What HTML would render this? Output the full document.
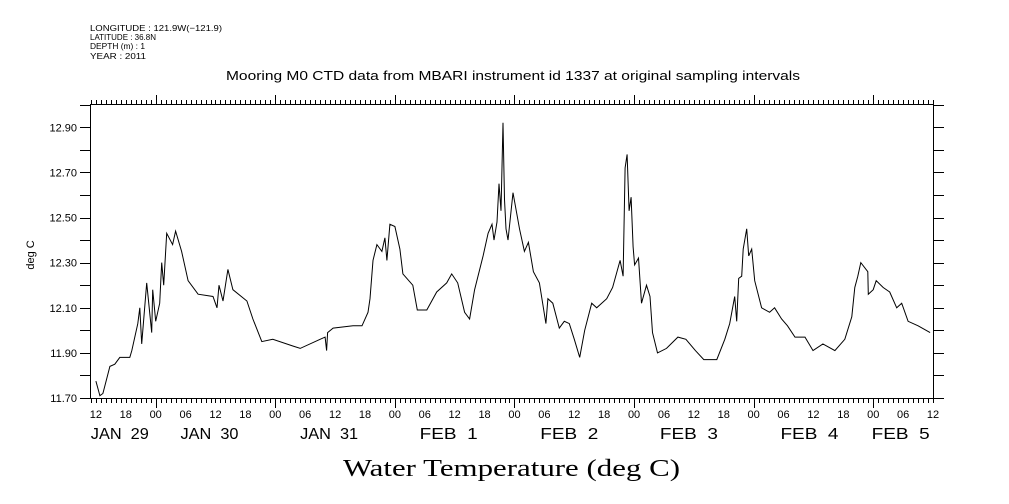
<!DOCTYPE html>
<html><head><meta charset="utf-8">
<style>
html,body{margin:0;padding:0;background:#fff;}
svg{display:block;}
text{font-family:"Liberation Sans",sans-serif;fill:#000;}
</style></head>
<body>
<svg id="chart" width="1009" height="504" viewBox="0 0 1009 504" xmlns="http://www.w3.org/2000/svg">
<g font-size="8.5">
<text x="90" y="31" textLength="132" lengthAdjust="spacingAndGlyphs">LONGITUDE : 121.9W(−121.9)</text>
<text x="90" y="40" textLength="66" lengthAdjust="spacingAndGlyphs">LATITUDE : 36.8N</text>
<text x="90" y="49" textLength="55" lengthAdjust="spacingAndGlyphs">DEPTH (m) : 1</text>
<text x="90" y="59" textLength="56" lengthAdjust="spacingAndGlyphs">YEAR : 2011</text>
</g>
<text x="226" y="80" textLength="574" lengthAdjust="spacingAndGlyphs" font-size="12.5">Mooring M0 CTD data from MBARI instrument id 1337 at original sampling intervals</text>
<text transform="translate(34,255) rotate(-90)" text-anchor="middle" font-size="11">deg C</text>
<text x="343" y="476" textLength="337" lengthAdjust="spacingAndGlyphs" font-size="24" style="font-family:'Liberation Serif',serif">Water Temperature (deg C)</text>
<g id="axes"></g>
<g id="dates" font-size="15"></g>
<path id="series" fill="none" stroke="#000" stroke-width="1"/>
</svg>
<script>
const hours = [0,0.8,1.4,2.8,3.8,4.8,6.8,7.2,8.4,8.8,9.2,10.2,11.2,11.4,12,12.8,13.2,13.6,14.2,15.4,16,17.2,18.5,20.5,23.5,24.3,24.7,25.5,26.5,27.5,30.3,31.5,33.3,35.5,39.6,41,45,46,46.3,46.5,47.6,51.6,53.4,54.6,55,55.6,56.4,57.4,58,58.4,59,60,61,61.6,63.6,64.5,66.4,68.4,70.4,71.4,72.6,74,75,76,77.7,78.7,79.5,79.9,80.5,80.9,81.3,81.7,82,82.3,82.7,83.7,85,86,86.8,87.8,89,90.3,90.7,91.7,93,94,95,96,97.1,98.1,99.5,100.5,102.5,103.7,105.2,105.8,106.2,106.6,107,107.4,107.8,108.1,108.9,109.5,110.5,111.2,111.7,112.7,114.5,116.8,118.4,120.3,122,124.6,126.2,127.2,128.2,128.6,129,129.6,129.9,130.6,131,131.6,132.2,133.6,135.2,136.2,137.6,138.8,140.3,142.3,143.9,145.9,148.3,150.3,151.7,152.3,152.9,153.5,154.9,155,156,156.6,158,159.3,160.7,161.7,163,165,167.4];
const temps = [11.775,11.71,11.72,11.84,11.85,11.88,11.88,11.91,12.03,12.10,11.94,12.21,11.99,12.18,12.04,12.12,12.30,12.20,12.43,12.38,12.44,12.35,12.22,12.16,12.15,12.10,12.20,12.13,12.27,12.18,12.13,12.05,11.95,11.96,11.93,11.92,11.96,11.97,11.91,11.99,12.01,12.02,12.02,12.08,12.14,12.31,12.38,12.35,12.41,12.31,12.47,12.46,12.36,12.25,12.20,12.09,12.09,12.17,12.21,12.25,12.21,12.08,12.05,12.18,12.33,12.43,12.47,12.40,12.48,12.65,12.53,12.92,12.58,12.45,12.40,12.61,12.45,12.35,12.39,12.26,12.21,12.03,12.14,12.12,12.01,12.04,12.03,11.96,11.88,12.00,12.12,12.10,12.14,12.19,12.31,12.24,12.72,12.78,12.53,12.59,12.37,12.29,12.32,12.12,12.20,12.15,11.99,11.90,11.92,11.97,11.96,11.91,11.87,11.87,11.96,12.03,12.15,12.04,12.23,12.24,12.36,12.45,12.33,12.36,12.22,12.10,12.08,12.10,12.05,12.02,11.97,11.97,11.91,11.94,11.91,11.96,12.06,12.19,12.24,12.30,12.26,12.16,12.18,12.22,12.19,12.17,12.10,12.12,12.04,12.02,11.99];
const yTickLabels = ["11.70","11.90","12.10","12.30","12.50","12.70","12.90"];
const hourLabels = ["12","18","00","06","12","18","00","06","12","18","00","06","12","18","00","06","12","18","00","06","12","18","00","06","12","18","00","06","12"];
const dateLabels = ["JAN 29","JAN 30","JAN 31","FEB 1","FEB 2","FEB 3","FEB 4","FEB 5"];
const dateLabelHours = [4.8,22.8,46.8,70.8,95,119,143.2,161.5];

const NS="http://www.w3.org/2000/svg";
const X0=90,X1=933,Y0=104,Y1=398;
const hMin=-1.18,hMax=168;
const vMin=11.7,vMax=13.0;
function xs(h){return 95.9+h*4.983;}
function ys(v){return 398-(v-vMin)*225.6;}
const axes=document.getElementById('axes');
function line(x1,y1,x2,y2,name){
  const l=document.createElementNS(NS,'line');
  l.setAttribute('x1',x1);l.setAttribute('y1',y1);l.setAttribute('x2',x2);l.setAttribute('y2',y2);
  l.setAttribute('stroke','#000');l.setAttribute('stroke-width','1');
  
  
  axes.appendChild(l);return l;
}
function txt(x,y,s,anchor,size,name,parent,len){
  const t=document.createElementNS(NS,'text');
  t.setAttribute('x',x);t.setAttribute('y',y);t.setAttribute('text-anchor',anchor);t.setAttribute('font-size',size);
  if(len){t.setAttribute('textLength',len);t.setAttribute('lengthAdjust','spacingAndGlyphs');}
  t.textContent=s;
  
  
  (parent||axes).appendChild(t);return t;
}
const r=document.createElementNS(NS,'rect');
r.setAttribute('x',X0+0.5);r.setAttribute('y',Y0+0.5);r.setAttribute('width',X1-X0);r.setAttribute('height',Y1-Y0);
r.setAttribute('fill','none');r.setAttribute('stroke','#000');


axes.appendChild(r);
for(let i=0;i<=13;i++){
  const v=vMin+i*0.1;const y=Math.round(ys(v))+0.5;
  line(X0-10,y,X0,y,'y-tick-left');
  line(X1,y,X1+11,y,'y-tick-right');
}
yTickLabels.forEach(s=>{txt(77,ys(parseFloat(s))+4,s,'end',11,'y-tick-label',null,null);});
for(let h=Math.ceil(hMin);h<=hMax;h++){
  const x=Math.round(xs(h))+0.5;
  const major=((h+12)%24===0);
  line(x,Y0,x,Y0-(major?9:4),'x-tick-top');
  line(x,Y1,x,Y1+(major?10:5),'x-tick-bottom');
}
hourLabels.forEach((s,i)=>{txt(xs(i*6),418,s,'middle',11,'x-tick-label',null,null);});
const dg=document.getElementById('dates');
dateLabels.forEach((s,i)=>{txt(xs(dateLabelHours[i]),439,s.replace(' ','\u00a0\u00a0'),'middle',16,'date-label',dg,58);});
let d='';
hours.forEach((h,i)=>{d+=(i?'L':'M')+xs(h).toFixed(1)+','+ys(temps[i]).toFixed(1);});
document.getElementById('series').setAttribute('d',d);
</script>
</body></html>
